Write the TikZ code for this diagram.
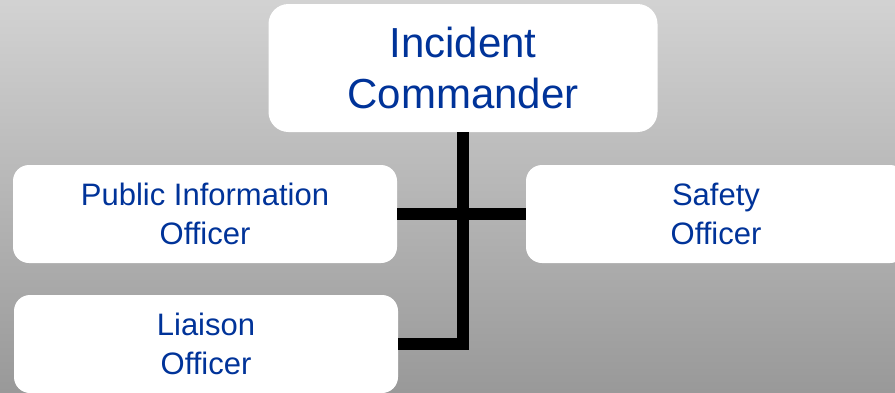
\documentclass[tikz,border=0pt]{standalone}
\usepackage{fontspec}
\setmainfont{Liberation Sans}
\usepackage{tikz}
\usetikzlibrary{positioning}
\usepackage{xcolor}
\definecolor{chartblue}{RGB}{0,51,153}

\begin{document}
\begin{tikzpicture}[x=1pt,y=-1pt,
box/.style={rectangle,rounded corners=16pt,fill=white,draw=none,inner sep=0pt,
    align=center,text=chartblue,minimum width=384pt,minimum height=98pt,
    font=\fontsize{31}{39}\selectfont},
topbox/.style={box,rounded corners=20pt,minimum width=389pt,minimum height=128pt,
    font=\fontsize{42}{51}\selectfont},
link/.style={draw=black,line width=12pt}]

\useasboundingbox (0,0) rectangle (895,392);
\clip (0,0) rectangle (895,392);
\shade[top color=gray!35,bottom color=gray!80] (0,0) rectangle (895,392);

\node[topbox] (commander) at (463,68) {Incident\\Commander};
\node[box] (public) at (205,214) {Public Information\\Officer};
\node[box,minimum width=380pt] (safety) at (716,214) {Safety\\Officer};
\node[box] (liaison) at (206,344) {Liaison\\Officer};

\draw[link] (public.east) -- (safety.west);
\draw[link] (commander.south) |- (liaison.east);

\end{tikzpicture}
\end{document}
